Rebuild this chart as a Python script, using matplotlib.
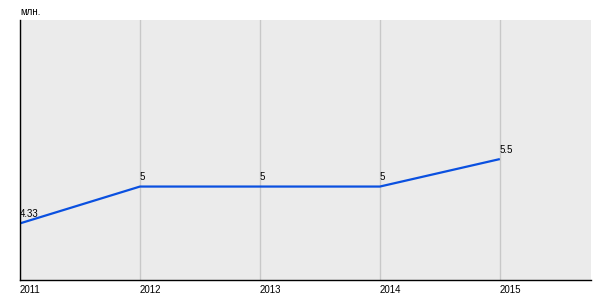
import matplotlib.pyplot as plt

years = [2011, 2012, 2013, 2014, 2015]
values = [4.33, 5, 5, 5, 5.5]
value_labels = ["4.33", "5", "5", "5", "5.5"]
unit = "млн."

plt.rcParams['font.family'] = ['Liberation Sans', 'DejaVu Sans']

fig = plt.figure(figsize=(6, 3), dpi=100)
ax = fig.add_axes([20 / 600, 20 / 300, 571 / 600, 260 / 300])
ax.set_facecolor("#ebebeb")

ax.plot(years, values, color="#0a50e0", linewidth=1.6, solid_capstyle="butt")

for x, y, lab in zip(years, values, value_labels):
    ax.annotate(lab, (x, y), xytext=(0, 3), textcoords="offset points",
                ha="left", va="bottom", fontsize=7, color="black")

ax.set_xlim(2011, 2015.76)
ax.set_ylim(3.3, 8.03)

ax.set_xticks(years)
ax.set_xticklabels([str(y) for y in years], fontsize=7, ha="left")
ax.set_yticks([])
ax.tick_params(axis="x", length=0, pad=3.5)
ax.grid(axis="x", color="#c8c8c8", linewidth=1)
ax.set_axisbelow(True)

ax.spines["top"].set_visible(False)
ax.spines["right"].set_visible(False)
ax.spines["left"].set_linewidth(1.0)
ax.spines["bottom"].set_linewidth(1.0)

fig.text(20 / 600, 1 - 12 / 300, unit, fontsize=7, ha="left", va="center")

fig.savefig("out.png", dpi=100)
